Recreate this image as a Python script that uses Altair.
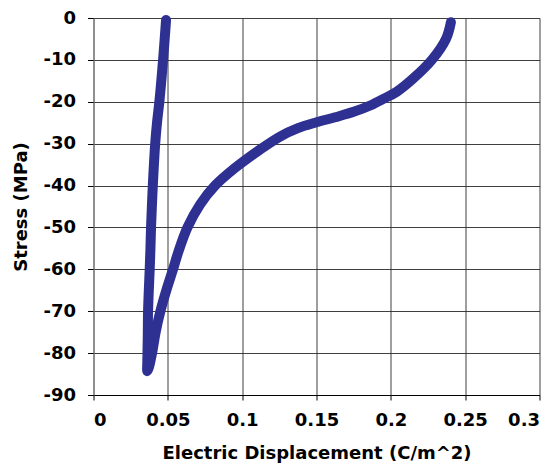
import altair as alt
import pandas as pd

# Electric displacement (C/m^2) and stress (MPa) along the traced loop
disp = [0.2404, 0.2372, 0.2276, 0.2152, 0.2040, 0.1950, 0.1861, 0.1750,
        0.1625, 0.1500, 0.1375, 0.1255, 0.1120, 0.0952, 0.0818, 0.0717,
        0.0632, 0.0571, 0.0535, 0.0490, 0.0450, 0.0418, 0.0394, 0.0372,
        0.0362, 0.0362, 0.0365, 0.0367, 0.0371, 0.0378, 0.0383, 0.0387,
        0.0399, 0.0415, 0.0428, 0.0443, 0.0468, 0.0488]
stress = [-1.0, -4.9, -10.0, -14.4, -17.6, -19.3, -20.9, -22.4,
          -23.7, -24.9, -26.3, -28.3, -31.4, -35.8, -40.0, -44.5,
          -50.0, -55.8, -60.0, -65.0, -70.0, -75.0, -80.0, -83.5,
          -84.3, -82.0, -76.0, -70.0, -65.9, -60.0, -55.0, -50.0,
          -40.0, -30.0, -24.7, -20.0, -10.0, -0.5]

x_ticks = [0, 0.05, 0.1, 0.15, 0.2, 0.25, 0.3]
y_ticks = [-90, -80, -70, -60, -50, -40, -30, -20, -10, 0]

df = pd.DataFrame({"D": disp, "S": stress, "i": list(range(len(disp)))})

FONT = "DejaVu Sans"

chart = alt.Chart(df).mark_line(
    color="#2E3192", strokeWidth=10, strokeCap="round", strokeJoin="round",
    interpolate="catmull-rom"
).encode(
    x=alt.X("D:Q", scale=alt.Scale(domain=[0, 0.3], nice=False, zero=False),
            axis=alt.Axis(values=x_ticks, labelExpr="'' + datum.value",
                          title="Electric Displacement (C/m^2)",
                          tickSize=5, labelPadding=11, titlePadding=15,
                          domainColor="#000000", tickColor="#000000")),
    y=alt.Y("S:Q", scale=alt.Scale(domain=[-90, 0], nice=False, zero=False),
            axis=alt.Axis(values=y_ticks, labelExpr="'' + datum.value",
                          title="Stress (MPa)",
                          tickSize=6, labelPadding=12, titlePadding=12,
                          domainColor="#808080", tickColor="#000000")),
    order="i:Q",
).properties(
    width=446, height=377, autosize="none",
    padding={"left": 85.5, "top": 10, "right": 5, "bottom": 70},
).configure_axis(
    grid=True, gridColor="#2a2a2a", gridWidth=1, gridOpacity=0.9,
    labelFont=FONT, labelFontSize=18, labelFontWeight="bold", labelColor="#000000",
    titleFont=FONT, titleFontSize=18, titleFontWeight="bold", titleColor="#000000",
    domainWidth=1, tickWidth=1,
).configure_view(stroke="transparent")

chart.save("out.html", embed_options={"renderer": "svg", "actions": False})
